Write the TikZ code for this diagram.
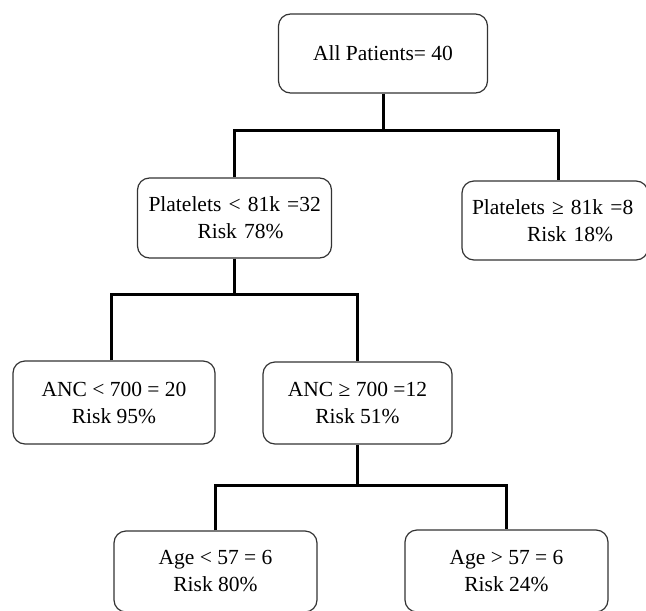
\documentclass[tikz,border=0pt]{standalone}
\usepackage{fontspec}
\setmainfont{Liberation Serif}
\begin{document}
\begin{tikzpicture}[x=1pt,y=-1pt,
  box/.style={draw=black!80, line width=1.2pt, rounded corners=12pt, inner sep=0pt,
    font=\fontsize{21.5}{27}\selectfont, align=center},
  lbox/.style={box, align=left},
  conn/.style={line width=3pt, line join=miter}]
\useasboundingbox (0,0) rectangle (646,611);
\clip (0,0) rectangle (646,611);
% nodes
\node[box, minimum width=209pt, minimum height=79pt] (top) at (383,53.5) {All Patients= 40};
\node[lbox, minimum width=194pt, minimum height=80pt, text width=172pt] (PL) at (234.5,218)
  {\mbox{Platelets < 81k =32}\\\hspace*{49pt}Risk 78\%};
\node[lbox, minimum width=186pt, minimum height=79pt, text width=166pt] (PG) at (555,220.5)
  {\mbox{Platelets ≥ 81k =8}\\\hspace*{55pt}Risk 18\%};
\node[box, minimum width=202pt, minimum height=83pt] (AL) at (114,402.5)
  {ANC < 700 = 20\\Risk 95\%};
\node[box, minimum width=189pt, minimum height=82pt] (AG) at (357.5,403)
  {ANC ≥ 700 =12\\Risk 51\%};
\node[box, minimum width=203pt, minimum height=81pt] (GL) at (215.5,571.5)
  {Age < 57 = 6\\Risk 80\%};
\node[box, minimum width=203pt, minimum height=82pt] (GG) at (506.5,571)
  {Age > 57 = 6\\Risk 24\%};
% connectors
\coordinate (b1) at (383,130);
\draw[conn] (top.south) -- (b1);
\draw[conn] (PL.north) |- (b1) -| ([xshift=3pt]PG.north);
\coordinate (b2) at (234.5,294);
\draw[conn] (PL.south) -- (b2);
\draw[conn] ([xshift=-3pt]AL.north) |- (b2) -| (AG.north);
\coordinate (b3) at (357.5,485);
\draw[conn] (AG.south) -- (b3);
\draw[conn] (GL.north) |- (b3) -| (GG.north);
\end{tikzpicture}
\end{document}
